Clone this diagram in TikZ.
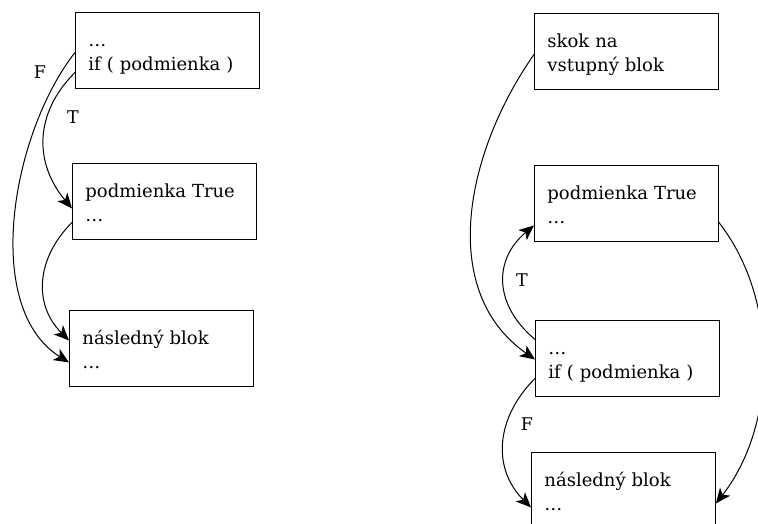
\documentclass[tikz,border=0pt]{standalone}
\usepackage{fontspec}
\setmainfont{DejaVu Serif}
\usepackage{tikz}
\usetikzlibrary{arrows.meta}

\tikzset{
    block/.style={draw, line width=0.9pt, anchor=north west, minimum width=184pt, minimum height=76pt,
        text width=158pt, inner xsep=13pt, text height=17pt, text depth=25pt, align=left,
        font=\fontsize{18}{24}\selectfont},
    flow/.style={-{Stealth[length=15pt,width=13pt,inset=4pt]}, line width=1pt},
    lbl/.style={font=\fontsize{17.5}{20}\selectfont}
}

\begin{document}
\begin{tikzpicture}[x=1pt,y=1pt]
                \useasboundingbox (0,0) rectangle (758,-524);
                \node[block] (ifL) at (75,-12) {\dots\\if ( podmienka )};
                \node[block] (trueL) at (72,-163) {podmienka True\\\dots};
                \node[block] (nextL) at (69,-310) {následný blok\\\dots};
                \node[block] (jumpR) at (534,-13) {skok na\\vstupný blok};
                \node[block] (trueR) at (534,-165) {podmienka True\\\dots};
                \node[block] (ifR) at (535,-320) {\dots\\if ( podmienka )};
                \node[block] (nextR) at (531,-452) {následný blok\\\dots};
                \draw[flow] ([yshift=-2pt]ifL.west) to[out=232, in=148, looseness=0.85] ([yshift=-14pt]nextL.west);
                \draw[flow] ([yshift=-22pt]ifL.west) to[out=225, in=130, looseness=1.1] ([yshift=-7pt]trueL.west);
                \draw[flow] ([yshift=-21pt]trueL.west) to[out=225, in=135, looseness=1.1] ([yshift=8pt]nextL.west);
                \node[lbl] (fL) at (40,-72) {F};
                \node[lbl] (tL) at (73,-117) {T};
                \draw[flow] ([yshift=-3pt]jumpR.west) to[out=235, in=145, looseness=1] ([yshift=-1pt]ifR.west);
                \draw[flow] ([yshift=19pt]ifR.west) to[out=140, in=220, looseness=1.2] ([yshift=-22pt]trueR.west);
                \draw[flow] ([yshift=-20pt]ifR.west) to[out=225, in=135, looseness=1.1] ([yshift=-17pt]nextR.west);
                \draw[flow] ([yshift=-19pt]trueR.east) to[out=-52, in=52, looseness=0.9] ([yshift=-13pt]nextR.east);
                \node[lbl] (tR) at (522,-280) {T};
                \node[lbl] (fR) at (527,-424) {F};
            \end{tikzpicture}
\end{document}
